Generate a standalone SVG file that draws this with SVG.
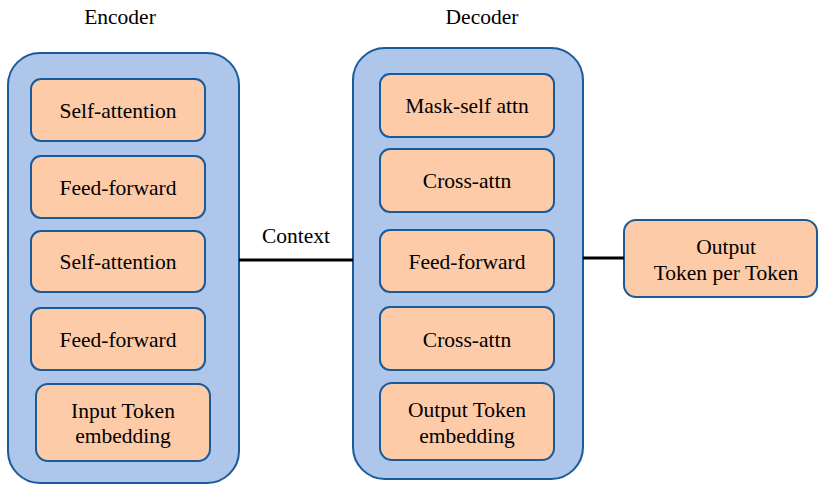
<svg xmlns="http://www.w3.org/2000/svg" width="819" height="485" viewBox="0 0 819 485">
<style>
.cont{fill:#adc6e9;stroke:#185a9a;stroke-width:2}
.blk{fill:#fecba8;stroke:#185a9a;stroke-width:2}
text{font-family:"Liberation Serif","Times New Roman",serif;font-size:21.5px;fill:#000;text-anchor:middle}
.ln{stroke:#000;stroke-width:3;fill:none}
</style>
<rect width="819" height="485" fill="#fff"/>
<text x="120" y="24">Encoder</text>
<text x="482" y="24">Decoder</text>
<g id="encoder">
<rect class="cont" x="8" y="53" width="231" height="430" rx="32"/>
</g>
<g id="enc-self-attn-1"><rect class="blk" x="31" y="79" width="174" height="62" rx="10"/><text x="118" y="118">Self-attention</text></g>
<g id="enc-ff-1"><rect class="blk" x="31" y="156" width="174" height="62" rx="10"/><text x="118" y="195">Feed-forward</text></g>
<g id="enc-self-attn-2"><rect class="blk" x="31" y="231" width="174" height="61" rx="10"/><text x="118" y="269">Self-attention</text></g>
<g id="enc-ff-2"><rect class="blk" x="31" y="308" width="174" height="62" rx="10"/><text x="118" y="347">Feed-forward</text></g>
<g id="enc-embed"><rect class="blk" x="36" y="384" width="174" height="77" rx="12"/><text x="123" y="418">Input Token</text><text x="123" y="443">embedding</text></g>
<g id="decoder">
<rect class="cont" x="353" y="48" width="230" height="431" rx="32"/>
</g>
<g id="dec-mask"><rect class="blk" x="380" y="74" width="174" height="63" rx="10"/><text x="467" y="113">Mask-self attn</text></g>
<g id="dec-cross-1"><rect class="blk" x="380" y="149" width="174" height="63" rx="10"/><text x="467" y="188">Cross-attn</text></g>
<g id="dec-ff"><rect class="blk" x="380" y="230" width="174" height="62" rx="10"/><text x="467" y="269">Feed-forward</text></g>
<g id="dec-cross-2"><rect class="blk" x="380" y="307" width="174" height="63" rx="10"/><text x="467" y="347">Cross-attn</text></g>
<g id="dec-embed"><rect class="blk" x="380" y="383" width="174" height="77" rx="12"/><text x="467" y="417">Output Token</text><text x="467" y="443">embedding</text></g>
<g id="output"><rect class="blk" x="624" y="220" width="193" height="77" rx="12"/><text x="726" y="254">Output</text><text x="726" y="280">Token per Token</text></g>
<g id="connectors">
<line class="ln" x1="239" y1="260" x2="353" y2="260"/>
<line class="ln" x1="583" y1="258" x2="624" y2="258"/>
</g>
<text x="296" y="243">Context</text>
</svg>
